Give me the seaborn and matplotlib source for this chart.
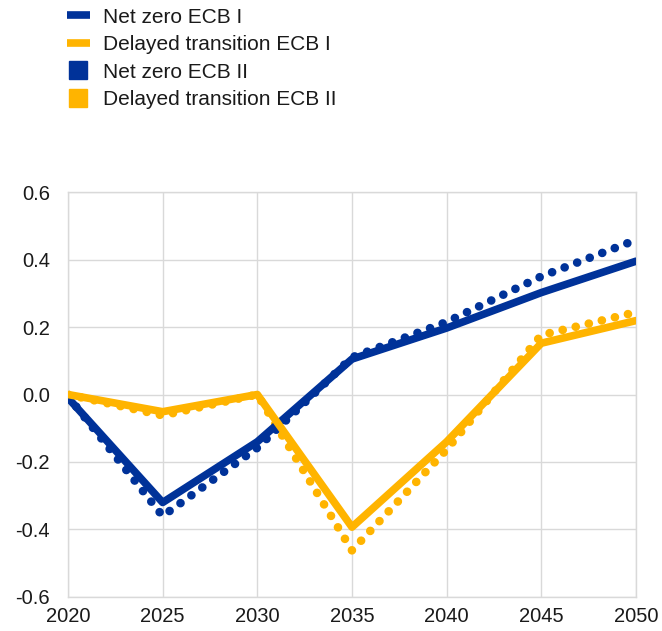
import matplotlib
matplotlib.use("Agg")
import matplotlib.pyplot as plt
import seaborn as sns
import pandas as pd
from matplotlib.lines import Line2D

years = [2020, 2025, 2030, 2035, 2040, 2045, 2050]
net_zero_1 = [-0.01, -0.32, -0.14, 0.105, 0.197, 0.302, 0.395]
delayed_1 = [0.0, -0.051, 0.0, -0.393, -0.14, 0.152, 0.219]
net_zero_2 = [-0.005, -0.36, -0.158, 0.11, 0.215, 0.35, 0.458]
delayed_2 = [0.0, -0.062, 0.0, -0.462, -0.163, 0.176, 0.244]

labels = ["Net zero ECB I", "Delayed transition ECB I",
          "Net zero ECB II", "Delayed transition ECB II"]
BLUE = "#003299"
YELLOW = "#ffb400"

sns.set_theme(style="white")
plt.rcParams['font.family'] = ['Liberation Sans', 'DejaVu Sans']

fig = plt.figure(figsize=(6.62, 6.31), dpi=100)
ax = fig.add_axes([0.1027, 0.0539, 0.858, 0.6418])

dot_style = (0, (0.01, 1.55))
sns.lineplot(x=years, y=net_zero_2, ax=ax, color=BLUE, lw=6.2,
             linestyle=dot_style, dash_capstyle="round", zorder=2)
sns.lineplot(x=years, y=delayed_2, ax=ax, color=YELLOW, lw=6.2,
             linestyle=dot_style, dash_capstyle="round", zorder=2)
sns.lineplot(x=years, y=net_zero_1, ax=ax, color=BLUE, lw=5.5, zorder=3)
sns.lineplot(x=years, y=delayed_1, ax=ax, color=YELLOW, lw=5.5, zorder=4)

ax.set_xlim(2020, 2050)
ax.set_ylim(-0.6, 0.6)
ax.set_xticks(years)
ax.set_yticks([-0.6, -0.4, -0.2, 0.0, 0.2, 0.4, 0.6])
ax.set_yticklabels(["-0.6", "-0.4", "-0.2", "0.0", "0.2", "0.4", "0.6"])
ax.grid(True, color="#d9d9d9", lw=1)
ax.set_axisbelow(True)
for s in ax.spines.values():
    s.set_color("#d9d9d9")
    s.set_linewidth(1)
ax.tick_params(axis="both", length=0, labelsize=14.5, colors="#1a1a1a")
ax.tick_params(axis="y", pad=13)
ax.tick_params(axis="x", pad=7)
ax.set_xlabel("")
ax.set_ylabel("")

handles = [
    Line2D([], [], color=BLUE, lw=5.5, solid_capstyle="butt"),
    Line2D([], [], color=YELLOW, lw=5.5, solid_capstyle="butt"),
    Line2D([], [], color=BLUE, marker="s", markersize=13.5, linestyle="none"),
    Line2D([], [], color=YELLOW, marker="s", markersize=13.5, linestyle="none"),
]
fig.legend(handles, labels, loc="upper left", bbox_to_anchor=(0.1012, 0.988),
           frameon=False, fontsize=15, handlelength=1.1, handletextpad=0.63,
           labelspacing=0.41, borderaxespad=0, borderpad=0,
           labelcolor="#1a1a1a")

fig.savefig("out.png", dpi=100)
